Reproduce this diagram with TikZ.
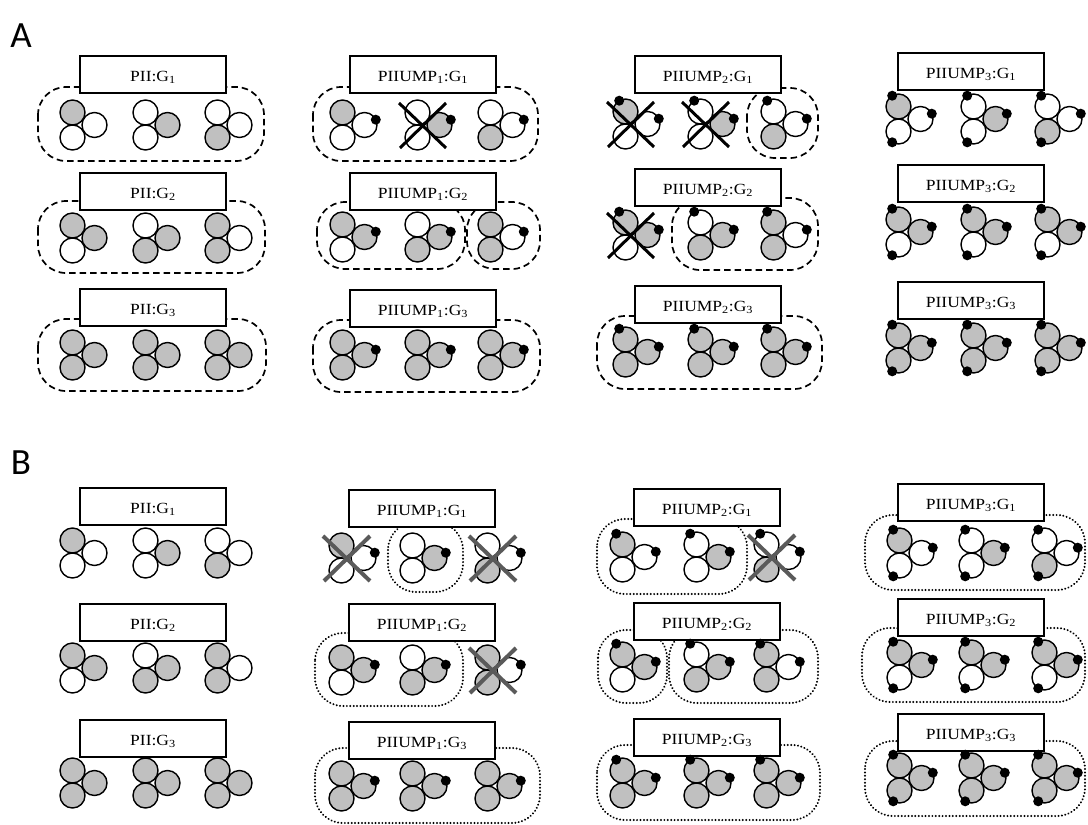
\documentclass[tikz,border=0pt]{standalone}
\usepackage{fontspec}
\setmainfont{Liberation Serif}
\newfontfamily\panelfont{Carlito}
\usepackage{graphicx}
\definecolor{molgray}{RGB}{192,192,192}
\definecolor{xgray}{RGB}{90,90,90}
\tikzset{
  mc/.style={draw=black, line width=1.4pt},
  lblbox/.style={draw, fill=white, line width=1.5pt, minimum width=146pt, minimum height=37pt, inner sep=0pt, anchor=north, font=\fontsize{15.5}{17}\selectfont},
  encA/.style={draw, line width=1.7pt, dash pattern=on 6.5pt off 4pt, rounded corners=28pt},
  encB/.style={draw, line width=2.2pt, dash pattern=on 0.01pt off 3.4pt, line cap=round, rounded corners=28pt},
  crossA/.style={draw=black, line width=3pt},
  crossB/.style={draw=xgray, line width=4pt},
  panellbl/.style={font=\panelfont\fontsize{37}{40}\selectfont, inner sep=0pt}
}
% #1 cx, #2 cy, #3 top fill, #4 bottom fill, #5 right fill, #6 number of dots
\newcommand\molec[6]{%
  \begin{scope}[shift={(#1,#2)}]
    \draw[mc, fill=#3] (-7.5,-12.5) circle[radius=12.5pt];
    \draw[mc, fill=#4] (-7.5,12.5) circle[radius=12.5pt];
    \draw[mc, fill=#5] (14.5,0) circle[radius=12.5pt];
    \ifnum#6>0 \fill (25.8,-5.3) circle[radius=5pt];\fi
    \ifnum#6>1 \fill (-13.8,-23.3) circle[radius=5pt];\fi
    \ifnum#6>2 \fill (-13.8,23.3) circle[radius=5pt];\fi
  \end{scope}}
% #1 cx, #2 cy, #3 style
\newcommand\xmark[3]{%
  \begin{scope}[shift={(#1,#2)}]
    \draw[#3] (-26,-22) -- (21,23);
    \draw[#3] (21,-22) -- (-25,23);
  \end{scope}}
\newcommand\lbl[4]{\node[lblbox] (#1) at (#2,#3) {\raisebox{-3pt}[\height][\depth]{\scalebox{1.13}[1]{#4}}};}
\newcommand\sub[1]{\textsubscript{#1}}
\begin{document}
\begin{tikzpicture}[x=1pt,y=-1pt]
\useasboundingbox (0,0) rectangle (1088,825);
\node[panellbl] (pA) at (21,36) {A};
\node[panellbl] (pB) at (21,463) {B};
% ---------- Panel A enclosures ----------
\draw[encA] (38,87) rectangle (264,161);
\draw[encA] (313,87) rectangle (538,161);
\draw[encA] (747,88) rectangle (818,158);
\draw[encA] (38,201) rectangle (265,273);
\draw[encA] (317,202) rectangle (465,269);
\draw[encA] (467,202) rectangle (540,269);
\draw[encA] (672,198) rectangle (818,270);
\draw[encA] (38,319) rectangle (266,391);
\draw[encA] (313,320) rectangle (540,392);
\draw[encA] (597,316) rectangle (822,389);
% ---------- Panel B enclosures ----------
\draw[encB] (388,522) rectangle (463,592);
\draw[encB] (597,519) rectangle (747,594);
\draw[encB] (865,515) rectangle (1085,590);
\draw[encB] (315,633) rectangle (463,706);
\draw[encB] (598,630) rectangle (667,703);
\draw[encB] (669,630) rectangle (818,703);
\draw[encB] (862,628) rectangle (1085,702);
\draw[encB] (315,748) rectangle (540,823);
\draw[encB] (597,745) rectangle (820,820);
\draw[encB] (865,741) rectangle (1085,816);
% ---------- Panel A labels ----------
\lbl{a11}{153}{55}{PII:G\sub{1}}
\lbl{a12}{423}{55}{PIIUMP\sub{1}:G\sub{1}}
\lbl{a13}{708}{55}{PIIUMP\sub{2}:G\sub{1}}
\lbl{a14}{971}{52}{PIIUMP\sub{3}:G\sub{1}}
\lbl{a21}{153}{172}{PII:G\sub{2}}
\lbl{a22}{423}{172}{PIIUMP\sub{1}:G\sub{2}}
\lbl{a23}{708}{168}{PIIUMP\sub{2}:G\sub{2}}
\lbl{a24}{971}{164}{PIIUMP\sub{3}:G\sub{2}}
\lbl{a31}{153}{288}{PII:G\sub{3}}
\lbl{a32}{423}{289}{PIIUMP\sub{1}:G\sub{3}}
\lbl{a33}{708}{285}{PIIUMP\sub{2}:G\sub{3}}
\lbl{a34}{971}{281}{PIIUMP\sub{3}:G\sub{3}}
% ---------- Panel B labels ----------
\lbl{b11}{153}{487}{PII:G\sub{1}}
\lbl{b12}{422}{489}{PIIUMP\sub{1}:G\sub{1}}
\lbl{b13}{707}{488}{PIIUMP\sub{2}:G\sub{1}}
\lbl{b14}{971}{483}{PIIUMP\sub{3}:G\sub{1}}
\lbl{b21}{153}{603}{PII:G\sub{2}}
\lbl{b22}{422}{603}{PIIUMP\sub{1}:G\sub{2}}
\lbl{b23}{707}{602}{PIIUMP\sub{2}:G\sub{2}}
\lbl{b24}{971}{598}{PIIUMP\sub{3}:G\sub{2}}
\lbl{b31}{153}{719}{PII:G\sub{3}}
\lbl{b32}{422}{721}{PIIUMP\sub{1}:G\sub{3}}
\lbl{b33}{707}{718}{PIIUMP\sub{2}:G\sub{3}}
\lbl{b34}{971}{713}{PIIUMP\sub{3}:G\sub{3}}
% ---------- Panel A molecules ----------
% row 1
\molec{80}{125}{molgray}{white}{white}{0}
\molec{153}{125}{white}{white}{molgray}{0}
\molec{225}{125}{white}{molgray}{white}{0}
\molec{350}{125}{molgray}{white}{white}{1}
\molec{425}{125}{white}{white}{molgray}{1}
\molec{498}{125}{white}{molgray}{white}{1}
\molec{633}{124}{molgray}{white}{white}{2}
\molec{708}{124}{white}{white}{molgray}{2}
\molec{781}{124}{white}{molgray}{white}{2}
\molec{906}{119}{molgray}{white}{white}{3}
\molec{981}{119}{white}{white}{molgray}{3}
\molec{1055}{119}{white}{molgray}{white}{3}
% row 2
\molec{80}{238}{molgray}{white}{molgray}{0}
\molec{153}{238}{white}{molgray}{molgray}{0}
\molec{225}{238}{molgray}{molgray}{white}{0}
\molec{350}{237}{molgray}{white}{molgray}{1}
\molec{425}{237}{white}{molgray}{molgray}{1}
\molec{498}{237}{molgray}{molgray}{white}{1}
\molec{633}{235}{molgray}{white}{molgray}{2}
\molec{708}{235}{white}{molgray}{molgray}{2}
\molec{781}{235}{molgray}{molgray}{white}{2}
\molec{906}{232}{molgray}{white}{molgray}{3}
\molec{981}{232}{molgray}{white}{molgray}{3}
\molec{1055}{232}{molgray}{white}{molgray}{3}
% row 3
\molec{80}{355}{molgray}{molgray}{molgray}{0}
\molec{153}{355}{molgray}{molgray}{molgray}{0}
\molec{225}{355}{molgray}{molgray}{molgray}{0}
\molec{350}{355}{molgray}{molgray}{molgray}{1}
\molec{425}{355}{molgray}{molgray}{molgray}{1}
\molec{498}{355}{molgray}{molgray}{molgray}{1}
\molec{633}{352}{molgray}{molgray}{molgray}{2}
\molec{708}{352}{molgray}{molgray}{molgray}{2}
\molec{781}{352}{molgray}{molgray}{molgray}{2}
\molec{906}{348}{molgray}{molgray}{molgray}{3}
\molec{981}{348}{molgray}{molgray}{molgray}{3}
\molec{1055}{348}{molgray}{molgray}{molgray}{3}
% ---------- Panel B molecules ----------
% row 1
\molec{80}{553}{molgray}{white}{white}{0}
\molec{153}{553}{white}{white}{molgray}{0}
\molec{225}{553}{white}{molgray}{white}{0}
\molec{349}{558}{molgray}{white}{white}{1}
\molec{420}{558}{white}{white}{molgray}{1}
\molec{495}{558}{white}{molgray}{white}{1}
\molec{630}{557}{molgray}{white}{white}{2}
\molec{704}{557}{white}{white}{molgray}{2}
\molec{774}{557}{white}{molgray}{white}{2}
\molec{907}{553}{molgray}{white}{white}{3}
\molec{979}{553}{white}{white}{molgray}{3}
\molec{1052}{553}{white}{molgray}{white}{3}
% row 2
\molec{80}{668}{molgray}{white}{molgray}{0}
\molec{153}{668}{white}{molgray}{molgray}{0}
\molec{225}{668}{molgray}{molgray}{white}{0}
\molec{349}{670}{molgray}{white}{molgray}{1}
\molec{420}{670}{white}{molgray}{molgray}{1}
\molec{495}{670}{molgray}{molgray}{white}{1}
\molec{630}{667}{molgray}{white}{molgray}{2}
\molec{704}{667}{white}{molgray}{molgray}{2}
\molec{774}{667}{molgray}{molgray}{white}{2}
\molec{907}{665}{molgray}{white}{molgray}{3}
\molec{979}{665}{molgray}{white}{molgray}{3}
\molec{1052}{665}{molgray}{white}{molgray}{3}
% row 3
\molec{80}{783}{molgray}{molgray}{molgray}{0}
\molec{153}{783}{molgray}{molgray}{molgray}{0}
\molec{225}{783}{molgray}{molgray}{molgray}{0}
\molec{349}{786}{molgray}{molgray}{molgray}{1}
\molec{420}{786}{molgray}{molgray}{molgray}{1}
\molec{495}{786}{molgray}{molgray}{molgray}{1}
\molec{630}{783}{molgray}{molgray}{molgray}{2}
\molec{704}{783}{molgray}{molgray}{molgray}{2}
\molec{774}{783}{molgray}{molgray}{molgray}{2}
\molec{907}{778}{molgray}{molgray}{molgray}{3}
\molec{979}{778}{molgray}{molgray}{molgray}{3}
\molec{1052}{778}{molgray}{molgray}{molgray}{3}
% ---------- crosses ----------
\xmark{425}{125}{crossA}
\xmark{633}{124}{crossA}
\xmark{708}{124}{crossA}
\xmark{633}{235}{crossA}
\xmark{349}{558}{crossB}
\xmark{495}{558}{crossB}
\xmark{774}{557}{crossB}
\xmark{495}{670}{crossB}
\end{tikzpicture}
\end{document}
